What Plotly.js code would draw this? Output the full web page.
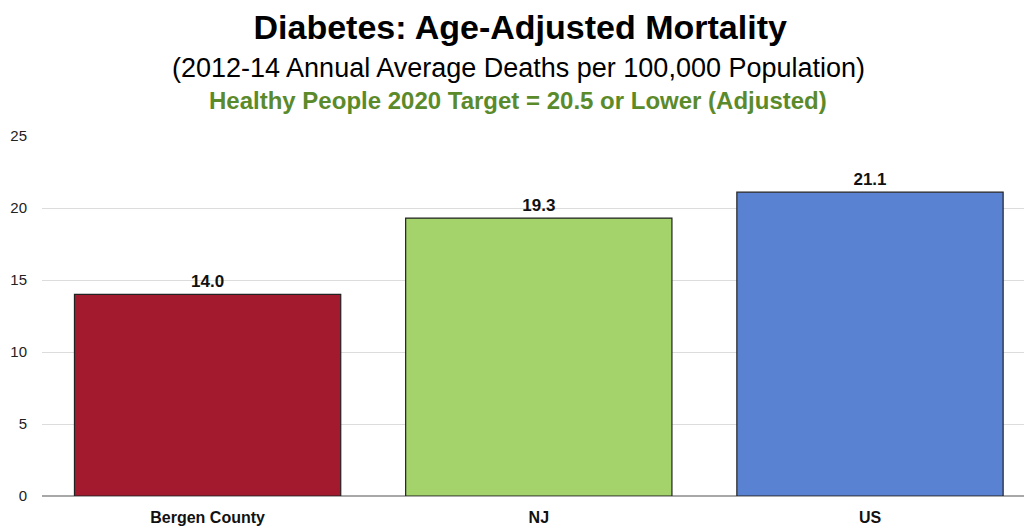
<!DOCTYPE html>
<html><head><meta charset="utf-8">
<script src="https://cdn.plot.ly/plotly-3.0.1.min.js"></script>
<style>html,body{margin:0;padding:0;background:#fff}</style>
</head><body>
<div id="chart" style="width:1026px;height:527px"></div>
<script>
const categories = ["Bergen County", "NJ", "US"];
const values = [14.0, 19.3, 21.1];
const barColors = ["#A31A2E", "#A3D36A", "#5A82D3"];
const valueLabels = ["14.0", "19.3", "21.1"];
const yTicks = [0, 5, 10, 15, 20, 25];

const FONT = "'Liberation Sans Narrow', 'Arial Narrow', 'Liberation Sans', Arial, sans-serif";

const trace = {
  type: "bar",
  x: categories,
  y: values,
  text: valueLabels,
  textposition: "outside",
  cliponaxis: false,
  textfont: {family: FONT, size: 17, color: "#111", weight: "bold"},
  marker: {color: barColors, line: {color: "#222", width: 1.2}},
  hoverinfo: "none"
};

const layout = {
  width: 1026, height: 527,
  margin: {l: 42, r: 2, t: 136, b: 31},
  paper_bgcolor: "#fff", plot_bgcolor: "#fff",
  showlegend: false,
  bargap: 0.196,
  title: {
    text: "<b>Diabetes: Age-Adjusted Mortality</b>",
    font: {family: FONT, size: 34, color: "#000"},
    x: 0.507, xanchor: "center", y: 0.972, yanchor: "top"
  },
  xaxis: {
    range: [-0.5, 2.465],
    showgrid: false, zeroline: false, showline: false,
    ticks: "",
    ticklabelstandoff: 10,
    tickfont: {family: FONT, size: 16, color: "#111", weight: "bold"},
    fixedrange: true
  },
  yaxis: {
    range: [0, 25],
    tickvals: yTicks,
    ticktext: yTicks.map(String),
    showgrid: true, gridcolor: "#dcdcdc", gridwidth: 1,
    zeroline: true, zerolinecolor: "#a8a8a8", zerolinewidth: 2,
    showline: false, ticks: "",
    ticklabelstandoff: 14,
    tickfont: {family: FONT, size: 15, color: "#222"},
    fixedrange: true
  },
  annotations: [
    {
      text: "(2012-14 Annual Average Deaths per 100,000 Population)",
      xref: "paper", yref: "paper", x: 0.485, y: 1.0 + (136 - 68) / 360,
      xanchor: "center", yanchor: "middle", showarrow: false,
      font: {family: FONT, size: 27, color: "#000"}
    },
    {
      text: "<b>Healthy People 2020 Target = 20.5 or Lower (Adjusted)</b>",
      xref: "paper", yref: "paper", x: 0.485, y: 1.0 + (136 - 101) / 360,
      xanchor: "center", yanchor: "middle", showarrow: false,
      font: {family: FONT, size: 24, color: "#5B8A2B"}
    }
  ]
};

Plotly.newPlot("chart", [trace], layout, {displayModeBar: false, staticPlot: true});
</script>
</body></html>
